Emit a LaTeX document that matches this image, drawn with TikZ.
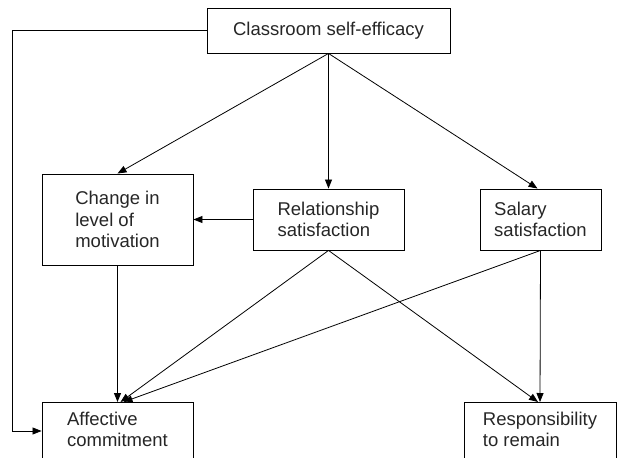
\documentclass[tikz,border=0pt]{standalone}
\usepackage{fontspec}
\setmainfont{Liberation Sans}
\usetikzlibrary{arrows.meta}

\begin{document}
\begin{tikzpicture}[
            x = 1pt, y = -1pt, % pixel-like units, y going down
            > = {Triangle[length=9pt, width=7pt]}, % arrow head style
            line width = 0.8pt,
            every text node part/.style={align=left} % line style
        ]

        \tikzstyle{box}=[
            draw = black,
            line width = 0.9pt,
            rectangle,
            text = black!85,
            font = \fontsize{18.5}{21.5}\selectfont
        ]
        \tikzstyle{openbox}=[
            anchor = north,
            inner ysep = 9.5pt,
            text depth = 45pt
        ]

        \path[use as bounding box, clip] (0,0) rectangle (617,457);

        \node[box, minimum width=243pt, minimum height=45pt] (CSE) at (328.5,30.5) {Classroom self-efficacy};
        \node[box, minimum width=151pt, minimum height=91pt] (CLM) at (117.5,219.5) {Change in \\ level of \\ motivation};
        \node[box, minimum width=151pt, minimum height=61pt] (RS) at (328.5,219.5) {Relationship \\ satisfaction};
        \node[box, minimum width=121pt, minimum height=61pt] (SS) at (540.5,219.5) {Salary \\ satisfaction};
        \node[box, openbox, minimum width=151pt] (AC) at (117.5,402) {Affective \\ commitment};
        \node[box, openbox, minimum width=152pt] (RR) at (540,402) {Responsibility \\ to remain};

        \coordinate (LOOP) at (12,431);

        \draw[->] (CSE.south) -- (CLM.north);
        \draw[->] (CSE.south) -- (RS.north);
        \draw[->] (CSE.south) -- ([xshift=-3pt]SS.north);
        \draw[->] (RS.west) -- (CLM.east);
        \draw[->] (CLM.south) -- (AC.north);
        \draw[->] (RS.south) -- ([xshift=3pt]AC.north);
        \draw[->] (SS.south) -- ([xshift=6pt]AC.north);
        \draw[->] (RS.south) -- ([xshift=-2pt]RR.north);
        \draw[->] (SS.south) -- (RR.north);
        \draw[->] (CSE.west) -| (LOOP) -- ([yshift=-29pt]AC.north west);

    \end{tikzpicture}
\end{document}
